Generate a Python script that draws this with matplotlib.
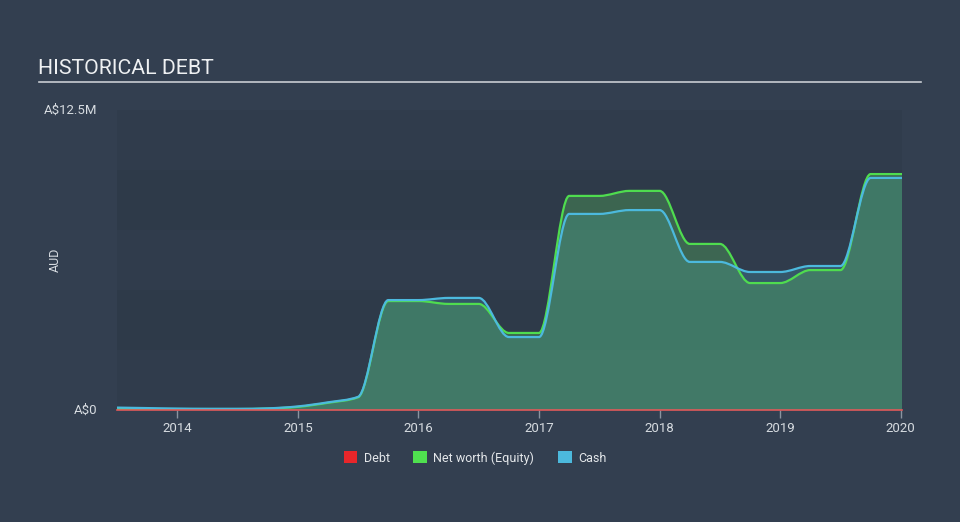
import numpy as np
import matplotlib
matplotlib.use("Agg")
import matplotlib.pyplot as plt
from matplotlib.path import Path
from matplotlib.patches import PathPatch, Patch

plt.rcParams['font.family'] = ['Roboto', 'DejaVu Sans']

# quarterly values, A$ millions
dates = [2013.5, 2013.75, 2014.0, 2014.25, 2014.5, 2014.75, 2015.0, 2015.25, 2015.5,
         2015.75, 2016.0, 2016.25, 2016.5, 2016.75, 2017.0, 2017.25, 2017.5, 2017.75,
         2018.0, 2018.25, 2018.5, 2018.75, 2019.0, 2019.25, 2019.5, 2019.75, 2020.01]
cash = [0.10, 0.08, 0.06, 0.05, 0.05, 0.07, 0.15, 0.32, 0.55,
        4.58, 4.58, 4.67, 4.67, 3.04, 3.04, 8.17, 8.17, 8.33,
        8.33, 6.17, 6.17, 5.75, 5.75, 6.00, 6.00, 9.67, 9.67]
equity = [0.04, 0.04, 0.04, 0.04, 0.04, 0.06, 0.13, 0.30, 0.53,
          4.54, 4.54, 4.42, 4.42, 3.21, 3.21, 8.92, 8.92, 9.13,
          9.13, 6.92, 6.92, 5.29, 5.29, 5.83, 5.83, 9.83, 9.83]
debt = [0.0] * len(dates)

year_ticks = [2014, 2015, 2016, 2017, 2018, 2019, 2020]

BG = "#333f50"


def monotone_path(x, y, close=False):
    # cubic bezier curve with Fritsch-Carlson tangents (like d3 curveMonotoneX)
    x = np.asarray(x, float)
    y = np.asarray(y, float)
    h = np.diff(x)
    s = np.diff(y) / h
    m = np.zeros(len(x))
    m[0], m[-1] = s[0], s[-1]
    for i in range(1, len(x) - 1):
        if s[i - 1] * s[i] <= 0:
            m[i] = 0
        else:
            m[i] = (np.sign(s[i - 1]) * min(abs(s[i - 1]), abs(s[i]),
                    0.5 * abs((h[i - 1] * s[i] + h[i] * s[i - 1]) / (h[i - 1] + h[i]))) * 2)
            m[i] = np.sign(s[i]) * min(abs(m[i]), 3 * abs(s[i - 1]), 3 * abs(s[i]))
    verts = [(x[0], y[0])]
    codes = [Path.MOVETO]
    for i in range(len(x) - 1):
        d = h[i] / 3
        verts += [(x[i] + d, y[i] + m[i] * d), (x[i + 1] - d, y[i + 1] - m[i + 1] * d),
                  (x[i + 1], y[i + 1])]
        codes += [Path.CURVE4] * 3
    if close:
        verts += [(x[-1], 0), (x[0], 0), (x[0], y[0])]
        codes += [Path.LINETO, Path.LINETO, Path.CLOSEPOLY]
    return Path(verts, codes)


fig = plt.figure(figsize=(9.6, 5.22), dpi=100, facecolor=BG)
ax = fig.add_axes([117 / 960, 1 - 410 / 522, 785 / 960, 300 / 522])
ax.set_facecolor(BG)

x0, x1 = dates[0], dates[-1]
ax.set_xlim(x0, x1)
ax.set_ylim(0, 12.5)

# alternating bands
band_cols = ["#303c4c", "#2e3a49"]
for k in range(5):
    ax.axhspan(k * 2.5, (k + 1) * 2.5, color=band_cols[k % 2], lw=0, zorder=0)

ax.add_patch(PathPatch(monotone_path(dates, cash, close=True), facecolor="#47b8d9",
                       alpha=0.22, lw=0, zorder=1))
ax.add_patch(PathPatch(monotone_path(dates, equity, close=True), facecolor="#5eca62",
                       alpha=0.3, lw=0, zorder=2))
ax.add_patch(PathPatch(monotone_path(dates, equity), facecolor="none", edgecolor="#4fdc4f",
                       lw=1.6, zorder=3))
ax.add_patch(PathPatch(monotone_path(dates, cash), facecolor="none", edgecolor="#4cb9dd",
                       lw=1.6, zorder=4))
ax.plot(dates, debt, color="#e05a5a", lw=1.2, zorder=5, clip_on=False)

for s in ax.spines.values():
    s.set_visible(False)

ax.set_xticks(year_ticks)
ax.set_xticklabels([str(t) for t in year_ticks])
ax.tick_params(axis="x", colors="#8a94a0", length=6, width=1, labelcolor="#d6dbe0",
               labelsize=9.5, pad=3)
ax.set_yticks([0, 12.5])
ax.set_yticklabels(["A$0", "A$12.5M"])
ax.tick_params(axis="y", length=0, labelcolor="#d6dbe0", labelsize=9.5, pad=14)
for t in ax.get_yticklabels():
    t.set_verticalalignment("center")

fig.text(55 / 960, 1 - 260 / 522, "AUD", rotation=90, color="#d6dbe0", fontsize=9,
         ha="center", va="center")

fig.text(38 / 960, 1 - 69 / 522, "HISTORICAL DEBT", color="#eef0f2", fontsize=15.3,
         ha="left", va="center")
fig.add_artist(plt.Line2D([39 / 960, 921 / 960], [1 - 81.5 / 522, 1 - 81.5 / 522],
                          color="#c8ccd2", lw=1.2))

handles = [Patch(facecolor="#e8262a", label="Debt"),
           Patch(facecolor="#4fe04f", label="Net worth (Equity)"),
           Patch(facecolor="#4cb9dd", label="Cash")]
leg = fig.legend(handles=handles, loc="center", bbox_to_anchor=(475 / 960, 1 - 458 / 522),
                 ncol=3, frameon=False, fontsize=9, handlelength=1.1, handleheight=1.1,
                 columnspacing=1.9, handletextpad=0.5)
for t in leg.get_texts():
    t.set_color("#e4e7ea")

fig.savefig("out.png", dpi=100, facecolor=BG)
